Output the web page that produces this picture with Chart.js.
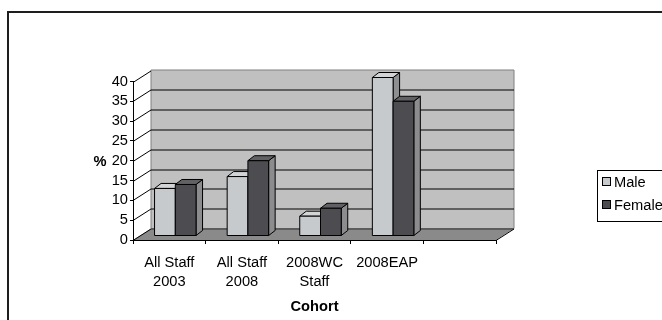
<!DOCTYPE html>
<html>
<head>
<meta charset="utf-8">
<script src="https://cdn.jsdelivr.net/npm/chart.js@4/dist/chart.umd.min.js"></script>
<style>
  html, body { margin: 0; padding: 0; background: #ffffff; }
  #wrap { width: 662px; height: 320px; }
</style>
</head>
<body>
<div id="wrap"><canvas id="c" width="662" height="320"></canvas></div>
<script>
// Cohorts along the horizontal axis (the last slot is left empty)
const categories = [["All Staff", "2003"], ["All Staff", "2008"], ["2008WC", "Staff"], "2008EAP", ""];
// Percentage of each cohort, by gender
const maleValues = [12, 15, 5, 40, null];
const femaleValues = [13, 19, 7, 34, null];
// Value axis ticks
const yTickValues = [0, 5, 10, 15, 20, 25, 30, 35, 40];

const FONT = "'Liberation Sans', Arial, Helvetica, sans-serif";
const FS = 14.67;

// Oblique projection offsets for the 3D look
const WALL_DX = 18, WALL_DY = -11.5;   // depth of the floor / back wall
const BAR_OX = 6, BAR_OY = -4;         // where bar front faces sit in depth
const BAR_DX = 6.5, BAR_DY = -5;       // bar thickness in depth

const seriesStyle = [
  { front: '#c7cacd', top: '#d2d4d6', side: '#8e8f91' },
  { front: '#4c4c51', top: '#616165', side: '#8c8c8e' }
];

function poly(ctx, pts, fill, stroke, lw) {
  ctx.beginPath();
  ctx.moveTo(pts[0][0], pts[0][1]);
  for (let i = 1; i < pts.length; i++) ctx.lineTo(pts[i][0], pts[i][1]);
  ctx.closePath();
  if (fill) { ctx.fillStyle = fill; ctx.fill(); }
  if (stroke) { ctx.strokeStyle = stroke; ctx.lineWidth = lw || 1; ctx.stroke(); }
}

const scene3d = {
  id: 'scene3d',
  beforeDraw(chart) {
    const ctx = chart.ctx;
    const a = chart.chartArea;
    const y = chart.scales.y;
    ctx.save();
    // outer frame
    ctx.fillStyle = '#1e1e1e';
    ctx.fillRect(7, 11, 2, 320);
    ctx.fillRect(7, 11, 660, 2);

    const L = a.left, R = a.right, T = a.top, B = a.bottom;
    // left side wall
    poly(ctx, [[L, B], [L + WALL_DX, B + WALL_DY], [L + WALL_DX, T + WALL_DY], [L, T]], '#ffffff', null);
    // back wall
    poly(ctx, [[L + WALL_DX, T + WALL_DY], [R + WALL_DX, T + WALL_DY], [R + WALL_DX, B + WALL_DY], [L + WALL_DX, B + WALL_DY]], '#c0c0c0', '#808080', 1);
    // floor
    poly(ctx, [[L, B], [R, B], [R + WALL_DX, B + WALL_DY], [L + WALL_DX, B + WALL_DY]], '#8a8a8a', null);

    // gridlines on the back wall and the side wall
    ctx.lineWidth = 1;
    yTickValues.forEach(v => {
      const py = Math.round(y.getPixelForValue(v)) + 0.5;
      ctx.strokeStyle = '#000000';
      ctx.beginPath();
      ctx.moveTo(L, py);
      ctx.lineTo(L + WALL_DX, py + WALL_DY);
      if (v > 0 && v < 40) ctx.lineTo(R + WALL_DX, py + WALL_DY);
      ctx.stroke();
    });
    // floor back edge and right edge
    ctx.strokeStyle = '#303030';
    ctx.beginPath();
    ctx.moveTo(L + WALL_DX, B + WALL_DY + 0.5);
    ctx.lineTo(R + WALL_DX, B + WALL_DY + 0.5);
    ctx.stroke();
    ctx.strokeStyle = '#000000';
    ctx.beginPath();
    ctx.moveTo(R, B + 0.5);
    ctx.lineTo(R + WALL_DX, B + WALL_DY + 0.5);
    ctx.stroke();
    ctx.restore();
  },
  beforeDatasetsDraw(chart) {
    const ctx = chart.ctx;
    const n = chart.data.labels.length;
    ctx.save();
    ctx.lineJoin = 'miter';
    for (let i = 0; i < n; i++) {
      chart.data.datasets.forEach((ds, d) => {
        const el = chart.getDatasetMeta(d).data[i];
        if (!el || ds.data[i] == null) return;
        const p = el.getProps(['x', 'y', 'base', 'width'], true);
        const st = seriesStyle[d];
        const l = p.x - p.width / 2 + BAR_OX, r = p.x + p.width / 2 + BAR_OX;
        const t = p.y + BAR_OY, b = p.base + BAR_OY;
        // side face
        poly(ctx, [[r, t], [r + BAR_DX, t + BAR_DY], [r + BAR_DX, b + BAR_DY], [r, b]], st.side, '#000000', 1);
        // top face
        poly(ctx, [[l, t], [l + BAR_DX, t + BAR_DY], [r + BAR_DX, t + BAR_DY], [r, t]], st.top, '#000000', 1);
        // front face
        poly(ctx, [[l, t], [r, t], [r, b], [l, b]], st.front, '#000000', 1);
      });
    }
    ctx.restore();
    return false;
  },
  afterDraw(chart) {
    const ctx = chart.ctx;
    const y = chart.scales.y;
    ctx.save();
    // value-axis caption, set horizontally beside the tick labels
    ctx.fillStyle = '#000000';
    ctx.font = 'bold ' + FS + 'px ' + FONT;
    ctx.textAlign = 'center';
    ctx.textBaseline = 'middle';
    ctx.fillText('%', 100, y.getPixelForValue(20) + 1);

    // legend
    ctx.fillStyle = '#ffffff';
    ctx.fillRect(597, 170, 80, 51);
    ctx.strokeStyle = '#000000';
    ctx.lineWidth = 1;
    ctx.strokeRect(597.5, 170.5, 80, 51);
    ctx.font = FS + 'px ' + FONT;
    ctx.textAlign = 'left';
    chart.data.datasets.forEach((ds, d) => {
      const cy = 182 + d * 23;
      ctx.fillStyle = seriesStyle[d].front;
      ctx.fillRect(602.5, cy - 4.5, 8, 8);
      ctx.strokeRect(602.5, cy - 4.5, 8, 8);
      ctx.fillStyle = '#000000';
      ctx.fillText(ds.label, 614, cy + 0.5);
    });
    ctx.restore();
  }
};

new Chart(document.getElementById('c'), {
  type: 'bar',
  data: {
    labels: categories,
    datasets: [
      { label: 'Male', data: maleValues, backgroundColor: seriesStyle[0].front },
      { label: 'Female', data: femaleValues, backgroundColor: seriesStyle[1].front }
    ]
  },
  options: {
    responsive: false,
    animation: false,
    events: [],
    layout: { padding: { left: 0, top: 81.5, right: 166, bottom: 0 } },
    plugins: { legend: { display: false }, tooltip: { enabled: false } },
    datasets: { bar: { categoryPercentage: 2 / 3.5, barPercentage: 1 } },
    scales: {
      x: {
        afterFit(s) { s.height = 80; },
        grid: { display: true, drawOnChartArea: false, drawTicks: true, tickLength: 4, color: '#000000', offset: true },
        border: { display: true, color: '#000000', width: 1 },
        ticks: { color: '#000000', font: { family: FONT, size: FS, lineHeight: 1.3 }, padding: 9.5, maxRotation: 0, autoSkip: false },
        title: { display: true, text: 'Cohort', color: '#000000', font: { family: FONT, size: FS, weight: 'bold', lineHeight: 1.2 }, padding: { top: 0, bottom: 4 } }
      },
      y: {
        min: 0, max: 40,
        afterFit(s) { s.width = 133; },
        afterBuildTicks(s) { s.ticks = yTickValues.map(v => ({ value: v })); },
        grid: { display: true, drawOnChartArea: false, drawTicks: true, tickLength: 3, color: '#000000' },
        border: { display: true, color: '#000000', width: 1 },
        ticks: { color: '#000000', font: { family: FONT, size: FS, lineHeight: 1 }, padding: 2, autoSkip: false }
      }
    }
  },
  plugins: [scene3d]
});
</script>
</body>
</html>
